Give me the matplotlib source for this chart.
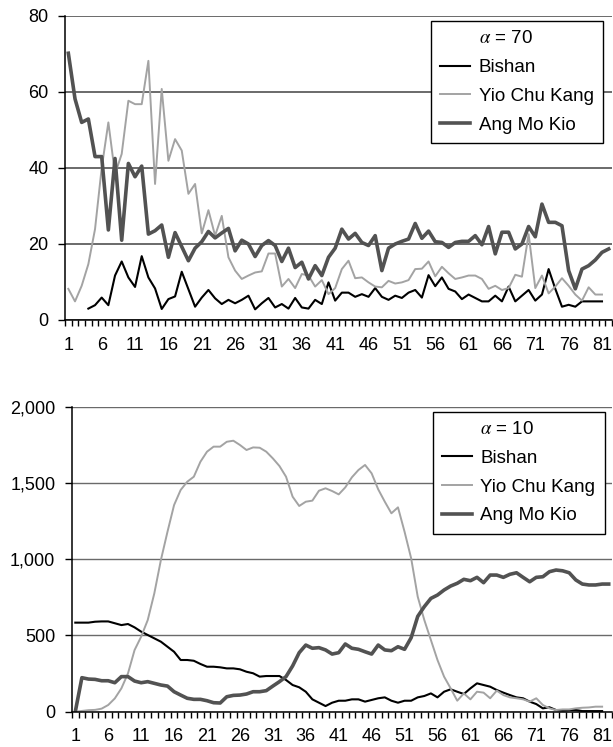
import numpy as np
import matplotlib
matplotlib.use('Agg')
import matplotlib.pyplot as plt
from matplotlib.lines import Line2D
from matplotlib.ticker import FuncFormatter

plt.rcParams['font.family'] = ['Liberation Sans', 'DejaVu Sans']
plt.rcParams['mathtext.fontset'] = 'stix'

# alpha = 70 (top panel)
bishan_70 = [None, None, None, 3.0, 3.9, 5.9, 3.9, 11.7, 15.4, 11.2,
             8.7, 16.8, 11.2, 8.3, 2.9, 5.5, 6.2, 12.7, 8.1, 3.5,
             5.9, 7.9, 5.7, 4.2, 5.3, 4.4, 5.3, 6.4, 2.8, 4.4,
             5.8, 3.3, 4.2, 3.0, 5.8, 3.3, 3.0, 5.3, 4.2, 9.9,
             5.1, 7.2, 7.2, 6.1, 6.8, 6.1, 8.4, 6.1, 5.3, 6.4,
             5.8, 7.2, 7.9, 5.9, 11.8, 8.9, 11.2, 8.2, 7.5, 5.5,
             6.7, 5.8, 4.9, 4.9, 6.4, 4.9, 8.8, 4.9, 6.4, 7.9,
             5.1, 6.7, 13.4, 8.2, 3.5, 4.0, 3.5, 4.9, 4.9, 4.9,
             4.9]
yck_70 = [8.2, 4.9, 9.0, 14.7, 23.9, 40.0, 52.0, 38.4, 43.7, 57.7,
          56.8, 56.8, 68.2, 35.8, 60.8, 41.9, 47.6, 44.6, 33.2, 35.8,
          22.8, 28.9, 22.2, 27.4, 16.5, 13.0, 10.8, 11.7, 12.5, 12.8,
          17.5, 17.5, 8.8, 10.8, 8.4, 12.1, 11.7, 8.8, 10.5, 6.8,
          8.4, 13.4, 15.6, 11.0, 11.2, 9.9, 8.8, 8.6, 10.3, 9.6,
          9.9, 10.5, 13.4, 13.5, 15.4, 11.5, 14.0, 12.3, 10.8, 11.2,
          11.7, 11.7, 10.8, 8.2, 9.0, 7.9, 8.4, 11.9, 11.4, 22.6,
          8.4, 11.7, 7.0, 8.8, 11.0, 9.0, 6.7, 5.1, 8.6, 6.7,
          6.7]
amk_70 = [70.2, 58.2, 52.0, 52.9, 43.0, 43.0, 23.7, 42.5, 21.0, 41.2,
          37.7, 40.5, 22.6, 23.5, 25.0, 16.5, 23.0, 19.3, 15.6, 18.9,
          20.6, 23.3, 21.6, 22.9, 24.1, 18.2, 21.0, 20.0, 16.7, 19.6,
          20.9, 19.6, 15.4, 18.9, 13.8, 15.2, 10.8, 14.3, 11.7, 16.5,
          18.9, 23.9, 21.3, 22.8, 20.4, 19.6, 22.2, 13.0, 18.9, 20.0,
          20.7, 21.3, 25.4, 21.5, 23.4, 20.6, 20.4, 19.1, 20.4, 20.7,
          20.7, 22.2, 19.8, 24.6, 17.4, 23.1, 23.1, 18.7, 20.0, 24.6,
          21.9, 30.5, 25.7, 25.7, 24.8, 13.0, 8.2, 13.4, 14.3, 15.8,
          17.8, 18.7]

# alpha = 10 (bottom panel)
bishan_10 = [584, 584, 584, 590, 592, 592, 580, 568, 575, 553,
             525, 503, 481, 459, 426, 393, 339, 339, 334, 313,
             295, 295, 291, 284, 284, 278, 262, 252, 230, 234,
             234, 234, 208, 175, 160, 131, 81, 59, 37, 59,
             72, 72, 81, 81, 66, 77, 88, 94, 72, 59,
             72, 72, 94, 103, 120, 94, 131, 147, 131, 116,
             153, 186, 175, 164, 142, 125, 109, 94, 88, 66,
             50, 22, 29, 11, 7, 11, 11, 4, 4, 4,
             4]
yck_10 = [0, 5, 10, 12, 20, 44, 87, 153, 251, 404,
          492, 601, 776, 995, 1180, 1355, 1454, 1508, 1541, 1639,
          1705, 1738, 1738, 1770, 1777, 1749, 1716, 1733, 1731, 1705,
          1661, 1611, 1541, 1410, 1349, 1377, 1384, 1449, 1465, 1447,
          1425, 1471, 1537, 1585, 1618, 1563, 1458, 1377, 1301, 1340,
          1180, 1006, 754, 601, 470, 339, 230, 153, 72, 120,
          81, 131, 125, 88, 138, 109, 94, 88, 81, 66,
          88, 44, 22, 11, 15, 15, 22, 26, 28, 33,
          33]
amk_10 = [0, 223, 214, 212, 203, 203, 190, 230, 230, 201,
          190, 197, 186, 175, 168, 131, 109, 88, 81, 81,
          72, 59, 57, 98, 107, 109, 116, 131, 131, 138,
          168, 197, 230, 300, 387, 437, 416, 420, 405, 378,
          387, 444, 416, 409, 393, 378, 437, 405, 400, 426,
          409, 485, 625, 689, 743, 765, 798, 824, 842, 868,
          859, 881, 846, 896, 896, 881, 901, 911, 881, 852,
          881, 885, 918, 929, 924, 911, 864, 837, 831, 831,
          837, 837]

names = ['Bishan', 'Yio Chu Kang', 'Ang Mo Kio']
colors = ['#000000', '#a3a3a3', '#525252']
widths = [1.5, 1.4, 2.6]
xlabels = list(range(1, 82, 5))


def draw_panel(ax, series, title, ymax, ystep, grid_lw, anchor, fmt=None):
    for vals, name, c, w in zip(series, names, colors, widths):
        y = np.array(vals, dtype=float)
        x = np.arange(1, len(y) + 1)
        ax.plot(x, y, color=c, lw=w, label=name)
    ax.set_xlim(0.5, 82.5)
    ax.set_ylim(0, ymax)
    ax.set_yticks(np.arange(0, ymax + 1, ystep))
    if fmt:
        ax.yaxis.set_major_formatter(FuncFormatter(fmt))
    ax.yaxis.grid(True, color='#6a6a6a', lw=grid_lw)
    ax.set_axisbelow(True)
    ax.set_xticks(xlabels)
    ax.set_xticks(np.arange(0.5, 83, 1), minor=True)
    ax.tick_params(axis='x', which='major', length=0, pad=12, labelsize=13)
    ax.tick_params(axis='x', which='minor', length=4, width=1, direction='out')
    ax.tick_params(axis='y', length=5, width=1, pad=7, labelsize=13)
    for s in ['top', 'right']:
        ax.spines[s].set_visible(False)
    for s in ['left', 'bottom']:
        ax.spines[s].set_linewidth(1.1)
        ax.spines[s].set_color('black')

    handles, labels = ax.get_legend_handles_labels()
    handles = [Line2D([], [], color='none')] + handles
    labels = [title] + labels
    leg = ax.legend(handles, labels, loc='upper right', bbox_to_anchor=anchor,
                    borderaxespad=0, fancybox=False, framealpha=1,
                    edgecolor='black', fontsize=13.5, handlelength=1.6,
                    handletextpad=0.45, labelspacing=0.62, borderpad=0.5)
    leg.get_frame().set_linewidth(1.0)


fig = plt.figure(figsize=(6.13, 7.47), dpi=100)
ax1 = fig.add_axes([65 / 613, 1 - 320 / 747, 547 / 613, 304 / 747])
ax2 = fig.add_axes([72 / 613, 1 - 711.7 / 747, 540 / 613, 305 / 747])

draw_panel(ax1, [bishan_70, yck_70, amk_70], r'$\alpha$ = 70', 80, 20, 1.4,
           (0.9835, 0.9836))
draw_panel(ax2, [bishan_10, yck_10, amk_10], r'$\alpha$ = 10', 2000, 500, 1.0,
           (0.9865, 0.9836), fmt=lambda v, p: '{:,.0f}'.format(v))

fig.savefig('out.png', dpi=100, facecolor='white')
